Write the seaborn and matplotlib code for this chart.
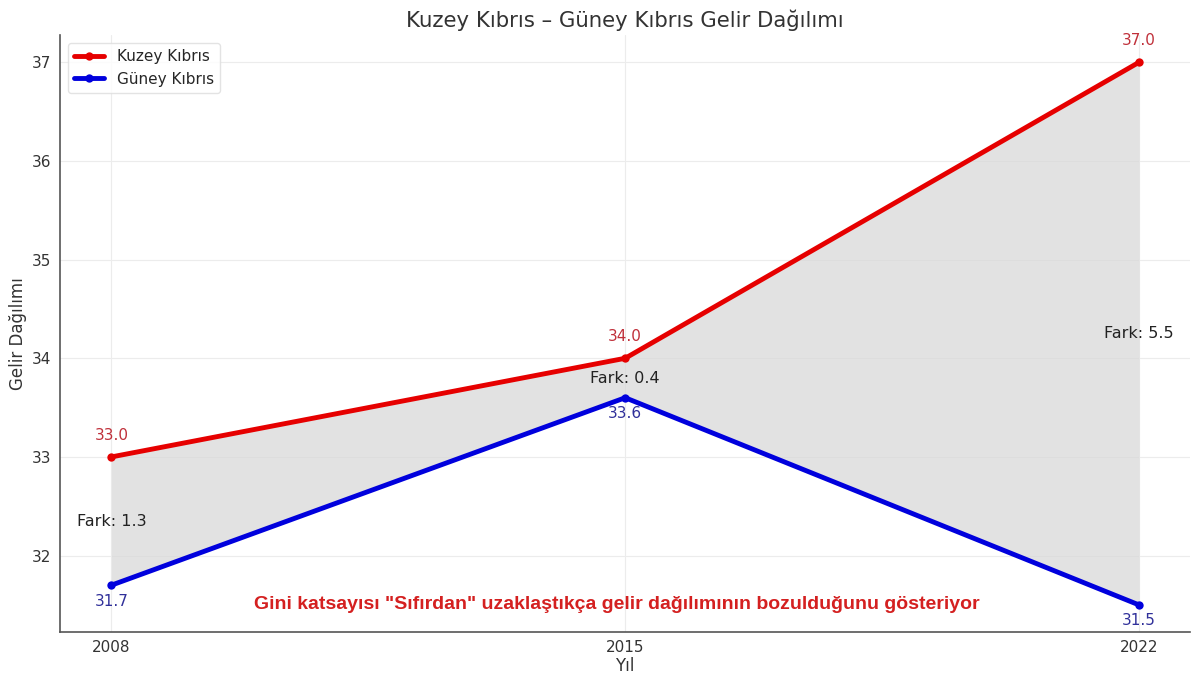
import matplotlib
matplotlib.use("Agg")
import matplotlib.pyplot as plt
import seaborn as sns
import pandas as pd

years = [2008, 2015, 2022]
kuzey = [33.0, 34.0, 37.0]
guney = [31.7, 33.6, 31.5]
series_names = ["Kuzey Kıbrıs", "Güney Kıbrıs"]
title = "Kuzey Kıbrıs – Güney Kıbrıs Gelir Dağılımı"
note = 'Gini katsayısı "Sıfırdan" uzaklaştıkça gelir dağılımının bozulduğunu gösteriyor'

sns.set_style("whitegrid")
plt.rcParams['font.family'] = ['DejaVu Sans']

df = pd.DataFrame({
    "Yıl": years * 2,
    "Değer": kuzey + guney,
    "Seri": [series_names[0]] * 3 + [series_names[1]] * 3,
})

fig = plt.figure(figsize=(12, 6.76), dpi=100)
ax = fig.add_axes([0.05, 0.065, 0.942, 0.883])

ax.fill_between(years, guney, kuzey, color="#d9d9d9", alpha=0.75, linewidth=0, zorder=1)
sns.lineplot(data=df, x="Yıl", y="Değer", hue="Seri",
             palette={series_names[0]: "#e60000", series_names[1]: "#0000dd"},
             marker="o", markersize=6, markeredgewidth=0, linewidth=3.5, ax=ax, zorder=3)

for x, y in zip(years, kuzey):
    ax.annotate(f"{y:.1f}", (x, y), xytext=(0, 10), textcoords="offset points",
                ha="center", va="bottom", color="#c0303a", fontsize=11)
for x, y in zip(years, guney):
    ax.annotate(f"{y:.1f}", (x, y), xytext=(0, -6), textcoords="offset points",
                ha="center", va="top", color="#30309a", fontsize=11)
for x, a, b in zip(years, kuzey, guney):
    ax.text(x, (a + b) / 2, f"Fark: {a - b:.1f}", ha="center", va="center",
            color="#222222", fontsize=11.5, zorder=4)

ax.set_xticks(years)
ax.set_xticklabels([str(y) for y in years])
ax.tick_params(axis="both", labelsize=11, colors="#333333", length=3, pad=3)
ax.set_xlabel("Yıl", fontsize=12, color="#333333", labelpad=1)
ax.set_ylabel("Gelir Dağılımı", fontsize=12, color="#333333")
ax.set_title(title, fontsize=15.3, color="#333333", pad=6)
ax.grid(True, color="#ececec", linewidth=0.8)
for side in ["top", "right"]:
    ax.spines[side].set_visible(False)
for side in ["left", "bottom"]:
    ax.spines[side].set_color("#555555")
    ax.spines[side].set_linewidth(1.2)

leg = ax.legend(loc="upper left", fontsize=11, frameon=True, title=None)
leg.get_frame().set_edgecolor("#dddddd")

ax.text(0.493, 0.047, note, transform=ax.transAxes, ha="center", va="center",
        color="#d42020", fontsize=14, fontweight="bold", family="Liberation Sans")

fig.savefig("out.png", dpi=100)
